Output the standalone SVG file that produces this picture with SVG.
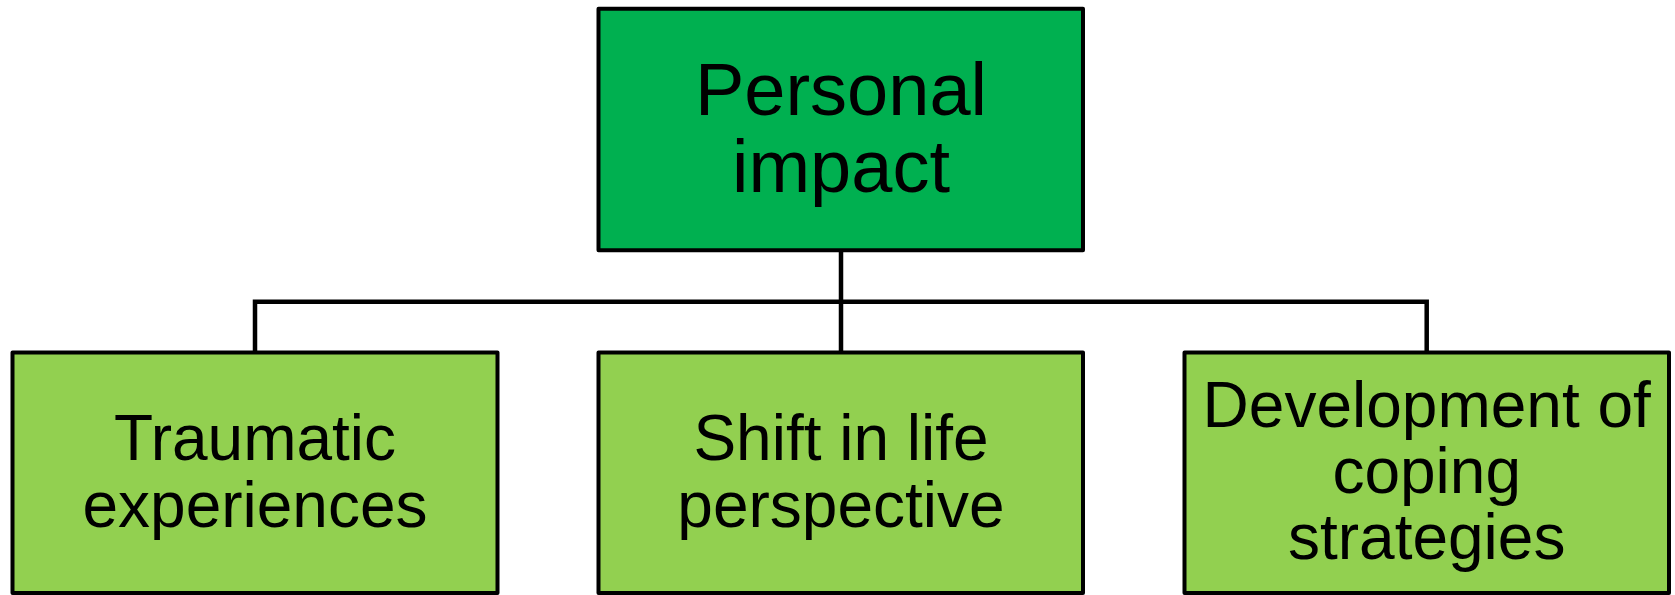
<svg xmlns="http://www.w3.org/2000/svg" width="1675" height="595" viewBox="0 0 1675 595">
<style>
.box{stroke:#000;stroke-width:4;stroke-linejoin:round}
.top{fill:#00B050}
.sub{fill:#92D050}
.conn{fill:none;stroke:#000;stroke-width:4.5}
text{font-family:"Liberation Sans",Arial,sans-serif;fill:#000;text-anchor:middle}
.t1{font-size:74px}
.t2{font-size:64px}
</style>
<rect width="1675" height="595" fill="#fff"/>
<g id="connectors">
<path class="conn" d="M841 250V352.5M255 352.5V301.7H1426.7V352.5"/>
</g>
<g id="personal-impact">
<rect class="box top" x="598.5" y="8.7" width="484.5" height="241.5"/>
<text class="t1" x="841" y="115">Personal</text>
<text class="t1" x="841" y="192">impact</text>
</g>
<g id="traumatic-experiences">
<rect class="box sub" x="12.5" y="352.5" width="485" height="240.5"/>
<text class="t2" x="255" y="460">Traumatic</text>
<text class="t2" x="255" y="527">experiences</text>
</g>
<g id="shift-in-life-perspective">
<rect class="box sub" x="598.5" y="352.5" width="484.5" height="240.5"/>
<text class="t2" x="841" y="460">Shift in life</text>
<text class="t2" x="841" y="527">perspective</text>
</g>
<g id="development-of-coping-strategies">
<rect class="box sub" x="1184.5" y="352.5" width="484.5" height="240.5"/>
<text class="t2" x="1426.7" y="426.7">Development of</text>
<text class="t2" x="1426.7" y="493">coping</text>
<text class="t2" x="1426.7" y="558.5">strategies</text>
</g>
</svg>
